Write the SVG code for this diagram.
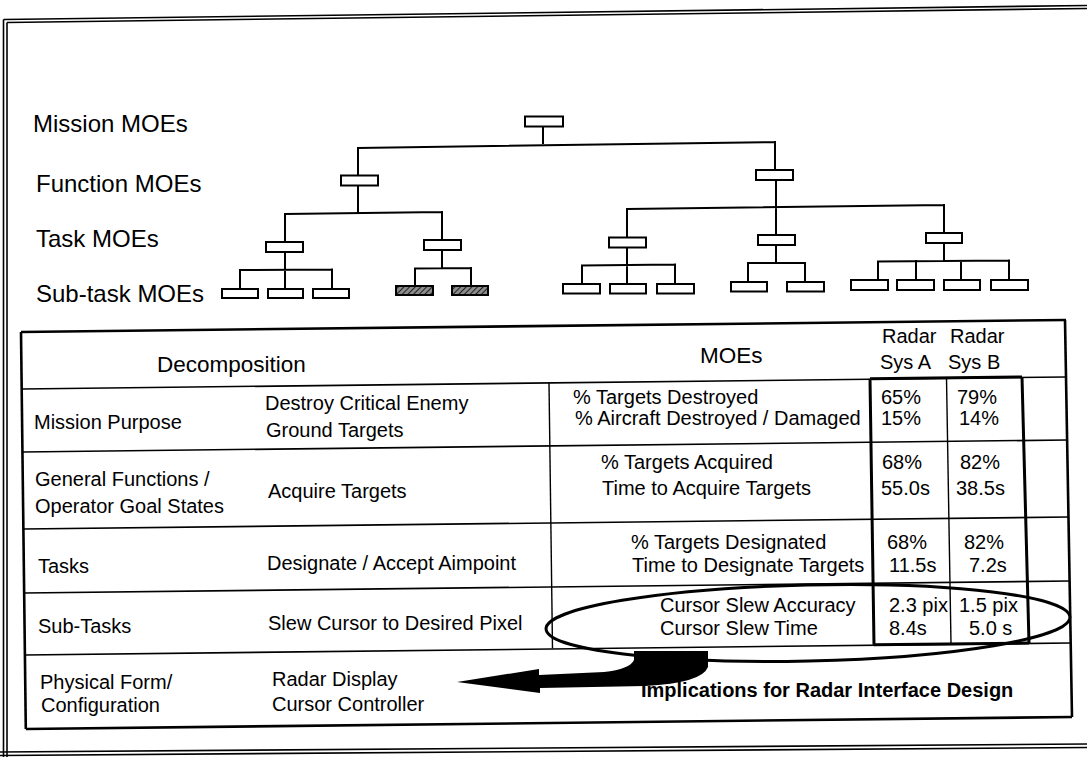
<svg xmlns="http://www.w3.org/2000/svg" width="1087" height="757" viewBox="0 0 1087 757">
  <defs>
    <pattern id="hatch" width="4" height="4" patternUnits="userSpaceOnUse" patternTransform="rotate(45)">
      <rect width="4" height="4" fill="#8c8c8c"/>
      <line x1="0" y1="0" x2="0" y2="4" stroke="#111" stroke-width="1.8"/>
    </pattern>
  </defs>
  <style>
    text { font-family: "Liberation Sans", Arial, Helvetica, sans-serif; fill: #000; }
    .lvl { font-size: 24px; }
    .hd { font-size: 22.5px; }
    .tx { font-size: 20px; }
    .bold { font-weight: bold; }
    .wire { stroke: #000; stroke-width: 2; fill: none; stroke-linecap: square; }
    .box { fill: #fff; stroke: #000; stroke-width: 2; }
    .hbox { fill: url(#hatch); stroke: #000; stroke-width: 2; }
    .frame { stroke: #000; stroke-width: 1.6; fill: none; }
    .edge { stroke: #000; stroke-width: 2.6; fill: none; }
    .row { stroke: #000; stroke-width: 1.6; fill: none; }
    .col { stroke: #000; stroke-width: 1.4; fill: none; }
    .thick { stroke: #000; stroke-width: 3; fill: none; }
  </style>

  <!-- page border (double rule) -->
  <g id="page-border">
    <line class="frame" x1="3.5" y1="19.5" x2="1087" y2="5.5"/>
    <line class="frame" x1="7" y1="22.5" x2="1087" y2="8.5"/>
    <line class="frame" x1="3.5" y1="19.5" x2="3.5" y2="757"/>
    <line class="frame" x1="7" y1="22.5" x2="7" y2="757"/>
    <line class="frame" x1="0" y1="752" x2="1087" y2="744"/>
    <line class="frame" x1="0" y1="755.5" x2="1087" y2="747.5"/>
  </g>

  <!-- hierarchy level names -->
  <g id="level-labels">
    <text class="lvl" x="33" y="132">Mission MOEs</text>
    <text class="lvl" x="36" y="192">Function MOEs</text>
    <text class="lvl" x="36" y="247">Task MOEs</text>
    <text class="lvl" x="36" y="302">Sub-task MOEs</text>
  </g>

  <!-- tree connectors -->
  <g id="connectors">
    <path class="wire" d="M543 126 V143 M358 148 L775 142 M358 148 V176 M775 142 V170"/>
    <path class="wire" d="M358 185 V213 M285 214 L442 212 M285 214 V242 M442 212 V240"/>
    <path class="wire" d="M776 180 V235 M627 209 L944 205 M627 209 V238 M944 205 V233"/>
    <path class="wire" d="M285 252 V270 M240 270 L332 269.5 M240 270 V289 M285 270 V289 M332 269.5 V289"/>
    <path class="wire" d="M442 250 V268 M415 268.5 L471 268 M415 268.5 V286 M471 268 V286"/>
    <path class="wire" d="M627 247 V265 M582 265.5 L675 264.5 M582 265.5 V284 M627 265 V284 M675 264.5 V284"/>
    <path class="wire" d="M776 245 V263 M748 263 L805 263 M748 263 V282 M805 263 V282"/>
    <path class="wire" d="M944 243 V261 M878 261.5 L1009 260.5 M878 261.5 V280 M916 261 V280 M961 261 V280 M1009 260.5 V280"/>
  </g>

  <!-- tree nodes -->
  <g id="mission"><rect class="box" x="525" y="116.5" width="38" height="10"/></g>
  <g id="function-1"><rect class="box" x="341" y="175.5" width="37" height="10"/></g>
  <g id="function-2"><rect class="box" x="756" y="170" width="37" height="10"/></g>
  <g id="task-1"><rect class="box" x="266" y="242" width="37" height="10"/></g>
  <g id="task-2"><rect class="box" x="424" y="240" width="37" height="10"/></g>
  <g id="task-3"><rect class="box" x="609" y="237.5" width="37" height="10"/></g>
  <g id="task-4"><rect class="box" x="758" y="235" width="37" height="10"/></g>
  <g id="task-5"><rect class="box" x="926" y="233" width="36" height="10"/></g>
  <g id="subtask-1-1"><rect class="box" x="222" y="289" width="36" height="9"/></g>
  <g id="subtask-1-2"><rect class="box" x="268" y="289" width="35" height="9"/></g>
  <g id="subtask-1-3"><rect class="box" x="313" y="289" width="36" height="9"/></g>
  <g id="subtask-2-1"><rect class="hbox" x="396" y="286" width="37" height="9"/></g>
  <g id="subtask-2-2"><rect class="hbox" x="452" y="286" width="36" height="9"/></g>
  <g id="subtask-3-1"><rect class="box" x="563" y="284" width="37" height="9.5"/></g>
  <g id="subtask-3-2"><rect class="box" x="610" y="284" width="36" height="9.5"/></g>
  <g id="subtask-3-3"><rect class="box" x="657" y="284" width="37" height="9.5"/></g>
  <g id="subtask-4-1"><rect class="box" x="731" y="282" width="36" height="9.5"/></g>
  <g id="subtask-4-2"><rect class="box" x="787" y="282" width="37" height="9.5"/></g>
  <g id="subtask-5-1"><rect class="box" x="851" y="280" width="37" height="10"/></g>
  <g id="subtask-5-2"><rect class="box" x="897" y="280" width="37" height="10"/></g>
  <g id="subtask-5-3"><rect class="box" x="944" y="280" width="36" height="10"/></g>
  <g id="subtask-5-4"><rect class="box" x="991" y="280" width="37" height="10"/></g>

  <!-- decomposition table: rules -->
  <g id="table-rules">
    <line class="edge" x1="21" y1="332" x2="1066" y2="320"/>
    <line class="edge" x1="21" y1="332" x2="25.8" y2="729"/>
    <line class="edge" x1="1065" y1="320" x2="1072" y2="717"/>
    <line class="edge" x1="25.8" y1="729" x2="1072" y2="717"/>
    <line class="row" x1="21.7" y1="389" x2="1066" y2="377"/>
    <line class="row" x1="22.4" y1="452" x2="1067" y2="440"/>
    <line class="row" x1="23.4" y1="529" x2="1068.5" y2="517"/>
    <line class="row" x1="24.1" y1="593" x2="1069.6" y2="581"/>
    <line class="row" x1="24.9" y1="655" x2="1070.7" y2="643"/>
    <line class="col" x1="549" y1="382.7" x2="552.5" y2="648.6"/>
    <line class="col" x1="946.5" y1="377.9" x2="951" y2="643.9"/>
    <line class="thick" x1="870" y1="378.8" x2="874" y2="644.8"/>
    <line class="thick" x1="1022" y1="377" x2="1029" y2="643"/>
    <line class="thick" x1="870" y1="378.8" x2="1022" y2="377"/>
    <line class="thick" x1="874" y1="644.8" x2="1029" y2="643"/>
  </g>

  <!-- header row -->
  <g id="header">
    <text class="hd" x="157" y="372">Decomposition</text>
    <text class="hd" x="700" y="363">MOEs</text>
    <text class="tx" x="882" y="343">Radar</text>
    <text class="tx" x="880" y="369">Sys A</text>
    <text class="tx" x="950" y="343">Radar</text>
    <text class="tx" x="948" y="369">Sys B</text>
  </g>

  <g id="row-mission">
    <text class="tx" x="34" y="429">Mission Purpose</text>
    <text class="tx" x="265" y="410">Destroy Critical Enemy</text>
    <text class="tx" x="266" y="437">Ground Targets</text>
    <text class="tx" x="573" y="404">% Targets Destroyed</text>
    <text class="tx" x="575" y="425">% Aircraft Destroyed / Damaged</text>
    <text class="tx" x="881" y="404">65%</text>
    <text class="tx" x="881" y="425">15%</text>
    <text class="tx" x="957" y="404">79%</text>
    <text class="tx" x="959" y="425">14%</text>
  </g>

  <g id="row-functions">
    <text class="tx" x="35" y="486">General Functions /</text>
    <text class="tx" x="35" y="513">Operator Goal States</text>
    <text class="tx" x="268" y="498">Acquire Targets</text>
    <text class="tx" x="601" y="469">% Targets Acquired</text>
    <text class="tx" x="602" y="495">Time to Acquire Targets</text>
    <text class="tx" x="882" y="469">68%</text>
    <text class="tx" x="881" y="495">55.0s</text>
    <text class="tx" x="960" y="469">82%</text>
    <text class="tx" x="956" y="495">38.5s</text>
  </g>

  <g id="row-tasks">
    <text class="tx" x="38" y="573">Tasks</text>
    <text class="tx" x="267" y="570">Designate / Accept Aimpoint</text>
    <text class="tx" x="631" y="549">% Targets Designated</text>
    <text class="tx" x="632" y="572">Time to Designate Targets</text>
    <text class="tx" x="887" y="549">68%</text>
    <text class="tx" x="889" y="572">11.5s</text>
    <text class="tx" x="964" y="549">82%</text>
    <text class="tx" x="969" y="572">7.2s</text>
  </g>

  <g id="row-subtasks">
    <text class="tx" x="38" y="633">Sub-Tasks</text>
    <text class="tx" x="268" y="630">Slew Cursor to Desired Pixel</text>
    <text class="tx" x="660" y="612">Cursor Slew Accuracy</text>
    <text class="tx" x="660" y="635">Cursor Slew Time</text>
    <text class="tx" x="889" y="612">2.3 pix</text>
    <text class="tx" x="889" y="635">8.4s</text>
    <text class="tx" x="959" y="612">1.5 pix</text>
    <text class="tx" x="969" y="635">5.0 s</text>
  </g>

  <g id="row-physical">
    <text class="tx" x="40" y="689">Physical Form/</text>
    <text class="tx" x="41" y="712">Configuration</text>
    <text class="tx" x="272" y="686">Radar Display</text>
    <text class="tx" x="272" y="711">Cursor Controller</text>
  </g>

  <!-- highlight of the sub-task MOEs and the implication arrow -->
  <g id="highlight">
    <ellipse cx="808" cy="623" rx="262" ry="38" transform="rotate(-1.3 808 623)" fill="none" stroke="#000" stroke-width="3"/>
    <path d="M457 682 L539 669 L539 675 L604 672 Q630 669 634 660 L634 651 L708 651 L708 667 Q702 683 645 686 L540 688 L540 693 Z" fill="#000"/>
    <text class="tx bold" x="641" y="697">Implications for Radar Interface Design</text>
  </g>
</svg>
